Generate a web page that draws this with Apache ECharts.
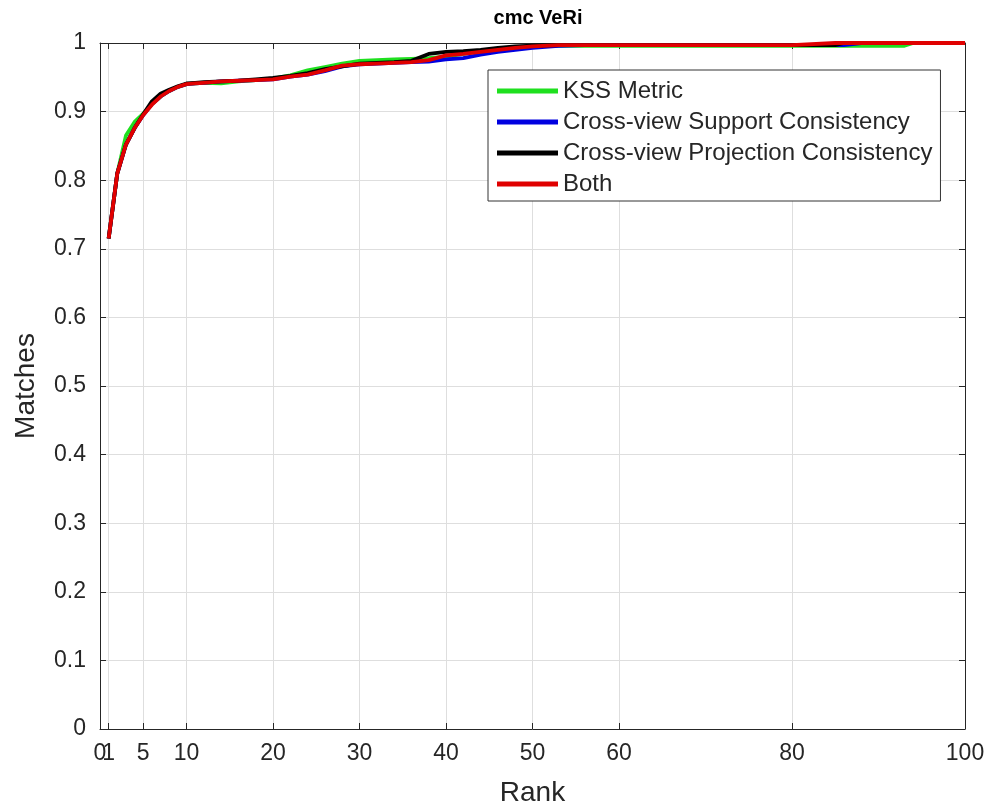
<!DOCTYPE html>
<html>
<head>
<meta charset="utf-8">
<script src="https://cdn.jsdelivr.net/npm/echarts@6/dist/echarts.min.js"></script>
<style>html,body{margin:0;padding:0;background:#fff}#c{width:992px;height:807px}</style>
</head>
<body>
<div id="c"></div>
<script>
var ranks = [1,2,3,4,5,6,7,8,9,10,11,12,14,16,18,20,22,24,26,28,30,32,34,36,38,40,42,44,46,48,50,53,56,60,70,80,85,86,88,90,93,94,100];
var kss        = [0.715,0.81,0.865,0.885,0.897,0.911,0.922,0.93,0.936,0.94,0.941,0.942,0.941,0.944,0.946,0.948,0.953,0.96,0.965,0.97,0.974,0.975,0.976,0.977,0.978,0.980,0.984,0.988,0.990,0.993,0.995,0.996,0.996,0.996,0.996,0.996,0.996,0.996,0.996,0.996,0.996,1.0,1.0];
var support    = [0.715,0.81,0.852,0.876,0.895,0.911,0.922,0.93,0.936,0.94,0.941,0.942,0.944,0.945,0.946,0.947,0.951,0.954,0.959,0.966,0.969,0.970,0.971,0.972,0.973,0.976,0.978,0.983,0.987,0.990,0.993,0.996,0.997,0.997,0.997,0.997,0.997,0.997,1.0,1.0,1.0,1.0,1.0];
var projection = [0.715,0.81,0.852,0.876,0.896,0.915,0.926,0.932,0.937,0.941,0.942,0.943,0.944,0.945,0.947,0.949,0.952,0.956,0.962,0.966,0.970,0.971,0.972,0.974,0.984,0.987,0.988,0.990,0.993,0.995,0.996,0.997,0.997,0.997,0.997,0.997,0.997,1.0,1.0,1.0,1.0,1.0,1.0];
var both       = [0.715,0.81,0.852,0.876,0.895,0.91,0.922,0.93,0.936,0.94,0.941,0.942,0.944,0.945,0.946,0.947,0.951,0.954,0.960,0.967,0.969,0.970,0.971,0.972,0.975,0.982,0.984,0.987,0.990,0.993,0.995,0.997,0.997,0.997,0.997,0.997,1.0,1.0,1.0,1.0,1.0,1.0,1.0];
var xTicks = [0,1,5,10,20,30,40,50,60,80,100];
var xLabelsMain = [1,5,10,20,30,40,50,60,80,100];
var xLabelsZero = [0];
var seriesNames = ['KSS Metric','Cross-view Support Consistency','Cross-view Projection Consistency','Both'];
var seriesColors = ['#1fe01f','#0000e0','#000000','#e00000'];
var seriesValues = [kss, support, projection, both];

function pairs(v){ return ranks.map(function(r,i){ return [r, v[i]]; }); }

var font = '"Liberation Sans", Arial, Helvetica, sans-serif';
var axisCol = '#262626';
var chart = echarts.init(document.getElementById('c'), null, {renderer:'canvas'});
var series = seriesNames.map(function(n,i){
  return {
    name: n, type: 'line', xAxisIndex: 0, yAxisIndex: 0,
    data: pairs(seriesValues[i]), showSymbol: false, symbol: 'none',
    lineStyle: {color: seriesColors[i], width: 3.8}, itemStyle: {color: seriesColors[i]},
    z: 2 + i, animation: false
  };
});
var labelStyle = {fontFamily: font, fontSize: 23, color: '#262626'};
chart.setOption({
  animation: false,
  backgroundColor: '#fff',
  title: {text: 'cmc VeRi', left: 533, top: 3, textAlign: 'center',
    textStyle: {fontFamily: font, fontSize: 20, fontWeight: 'bold', color: '#000'}},
  grid: {left: 100, right: 27, top: 43, bottom: 78, containLabel: false, outerBoundsMode: 'none'},
  legend: {
    orient: 'vertical', left: 488, top: 70,
    data: seriesNames, icon: 'rect', itemWidth: 61, itemHeight: 5, itemGap: 7,
    padding: [9, 8, 5, 9],
    borderColor: '#333', borderWidth: 1, backgroundColor: '#fff',
    textStyle: {fontFamily: font, fontSize: 24, color: '#262626'},
    selectedMode: false, z: 10
  },
  xAxis: [{
    type: 'value', min: 0, max: 100, position: 'bottom',
    name: 'Rank', nameLocation: 'middle', nameGap: 50,
    nameTextStyle: {fontFamily: font, fontSize: 28, color: '#262626'},
    axisLine: {show: true, onZero: false, lineStyle: {color: axisCol, width: 1}},
    axisTick: {show: true, inside: true, length: 6, customValues: xTicks, lineStyle: {color: axisCol}},
    axisLabel: Object.assign({customValues: xLabelsMain, margin: 13, hideOverlap: false}, labelStyle),
    splitLine: {show: true, lineStyle: {color: '#dedede', width: 1}}
  },{
    type: 'value', min: 0, max: 100, position: 'top',
    axisLine: {show: true, onZero: false, lineStyle: {color: axisCol, width: 1}},
    axisTick: {show: true, inside: true, length: 6, customValues: xTicks, lineStyle: {color: axisCol}},
    axisLabel: {show: false}, splitLine: {show: false}
  },{
    type: 'value', min: 0, max: 100, position: 'bottom', offset: 0,
    axisLine: {show: false, onZero: false},
    axisTick: {show: false},
    axisLabel: Object.assign({customValues: xLabelsZero, showMinLabel: true, margin: 13}, labelStyle),
    splitLine: {show: false}
  }],
  yAxis: [{
    type: 'value', min: 0, max: 1, interval: 0.1, position: 'left',
    name: 'Matches', nameLocation: 'middle', nameGap: 60,
    nameTextStyle: {fontFamily: font, fontSize: 28, color: '#262626'},
    axisLine: {show: true, onZero: false, lineStyle: {color: axisCol, width: 1}},
    axisTick: {show: true, inside: false, length: -6, lineStyle: {color: axisCol}},
    axisLabel: Object.assign({margin: 14,
      formatter: function(v){ return String(Math.round(v*10)/10); }}, labelStyle),
    splitLine: {show: true, lineStyle: {color: '#dedede', width: 1}}
  },{
    type: 'value', min: 0, max: 1, interval: 0.1, position: 'right',
    axisLine: {show: true, onZero: false, lineStyle: {color: axisCol, width: 1}},
    axisTick: {show: true, inside: false, length: -6, lineStyle: {color: axisCol}},
    axisLabel: {show: false}, splitLine: {show: false}
  }],
  series: series
});
</script>
</body>
</html>
